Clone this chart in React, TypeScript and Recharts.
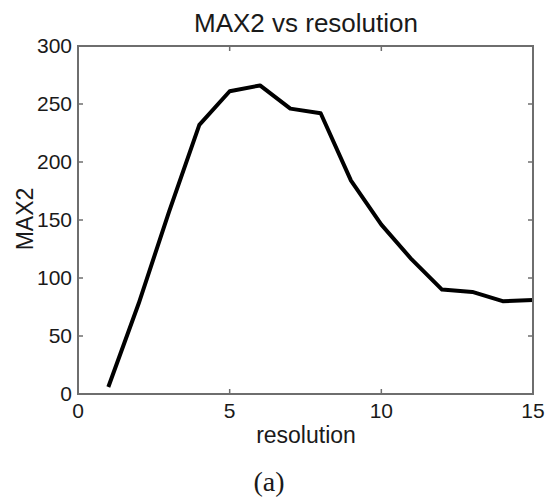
import React from 'react';
import { LineChart, Line, XAxis, YAxis, ReferenceLine } from 'recharts';

const resolution = [1, 2, 3, 4, 5, 6, 7, 8, 9, 10, 11, 12, 13, 14, 15];
const max2 = [6, 78, 157, 232, 261, 266, 246, 242, 184, 146, 116, 90, 88, 80, 81];
const xTicks = [0, 5, 10, 15];
const yTicks = [0, 50, 100, 150, 200, 250, 300];
const xInner = [5, 10];
const yInner = [50, 100, 150, 200, 250];
const xMax = 15;
const yMax = 300;

const data = resolution.map((r, i) => ({ r, v: max2[i] }));

const W = 547;
const H = 501;
const MARGIN = { top: 46, right: 14, left: 38, bottom: 77 };
const Y_AXIS_W = 40;
const X_AXIS_H = 30;
const PLOT_L = MARGIN.left + Y_AXIS_W;
const PLOT_R = W - MARGIN.right;
const PLOT_T = MARGIN.top;
const PLOT_B = H - MARGIN.bottom - X_AXIS_H;

const FONT = '"Liberation Sans", Arial, Helvetica, sans-serif';
const AXIS = '#6e6e6e';
const TXT = '#1a1a1a';
const TICK = 5;

const TopTick = (p: any) => {
  const top = Math.min(p.y1, p.y2);
  return <line x1={p.x1} x2={p.x1} y1={top} y2={top + TICK} stroke={AXIS} strokeWidth={1.5} />;
};

const RightTick = (p: any) => {
  const r = Math.max(p.x1, p.x2);
  return <line x1={r} x2={r - TICK} y1={p.y1} y2={p.y1} stroke={AXIS} strokeWidth={1.5} />;
};

export default function App() {
  return (
    <div style={{ position: 'absolute', left: 0, top: 0, width: W, height: H, background: '#fff' }}>
      <LineChart
        width={W}
        height={H}
        data={data}
        margin={MARGIN}
        style={{ fontFamily: FONT }}
      >
        <XAxis
          dataKey="r"
          type="number"
          domain={[0, 15]}
          ticks={xTicks}
          allowDataOverflow
          height={X_AXIS_H}
          tickSize={-5}
          tickMargin={14}
          stroke={AXIS}
          strokeWidth={1.5}
          tick={{ fill: TXT, fontSize: 21, fontFamily: FONT }}
        />
        <YAxis
          type="number"
          domain={[0, 300]}
          ticks={yTicks}
          allowDataOverflow
          width={Y_AXIS_W}
          tickSize={-5}
          tickMargin={11}
          stroke={AXIS}
          strokeWidth={1.5}
          tick={{ fill: TXT, fontSize: 21, fontFamily: FONT }}
        />
        <ReferenceLine y={yMax} stroke={AXIS} strokeWidth={2} ifOverflow="extendDomain" />
        <ReferenceLine x={xMax} stroke={AXIS} strokeWidth={2} ifOverflow="extendDomain" />
        {xInner.map((x) => (
          <ReferenceLine key={'vx' + x} x={x} shape={TopTick} ifOverflow="visible" />
        ))}
        {yInner.map((y) => (
          <ReferenceLine key={'hy' + y} y={y} shape={RightTick} ifOverflow="visible" />
        ))}
        <Line
          dataKey="v"
          stroke="#000"
          strokeWidth={4}
          strokeLinejoin="round"
          dot={false}
          activeDot={false}
          isAnimationActive={false}
        />
      </LineChart>
      <svg
        width={W}
        height={H}
        style={{ position: 'absolute', left: 0, top: 0, pointerEvents: 'none' }}
      >
        <rect
          x={PLOT_L}
          y={PLOT_T}
          width={PLOT_R - PLOT_L}
          height={PLOT_B - PLOT_T}
          fill="none"
          stroke={AXIS}
          strokeWidth={2}
        />
        <text x={306} y={32} textAnchor="middle" fontSize={26} fontFamily={FONT} fill={TXT}>
          MAX2 vs resolution
        </text>
        <text x={306} y={443} textAnchor="middle" fontSize={23} fontFamily={FONT} fill={TXT}>
          resolution
        </text>
        <text
          x={33}
          y={219}
          textAnchor="middle"
          fontSize={23}
          fontFamily={FONT}
          fill={TXT}
          transform="rotate(-90 33 219)"
        >
          MAX2
        </text>
        <text
          x={269}
          y={491}
          textAnchor="middle"
          fontSize={28}
          fontFamily={'"Liberation Serif", "DejaVu Serif", serif'}
          fill={TXT}
        >
          (a)
        </text>
      </svg>
    </div>
  );
}
